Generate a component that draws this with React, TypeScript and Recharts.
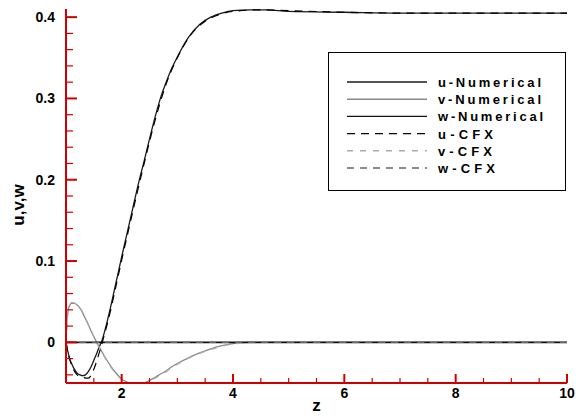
import { LineChart, Line, XAxis, YAxis } from "recharts";

const FONT = "'Liberation Sans', Arial, sans-serif";

// numerical solution
const zNum = [1, 1.02, 1.04, 1.07, 1.1, 1.15, 1.2, 1.25, 1.3, 1.35, 1.4, 1.45, 1.5, 1.55, 1.6, 1.65, 1.7, 1.8, 1.9, 2.0, 2.1, 2.2, 2.3, 2.4, 2.5, 2.6, 2.7, 2.8, 2.9, 3.0, 3.2, 3.4, 3.6, 3.8, 4.0, 4.3, 4.6, 5, 6, 7, 8, 9, 10];
const uNum = [0, -0.007, -0.013, -0.021, -0.026, -0.033, -0.038, -0.04, -0.041, -0.04, -0.036, -0.03, -0.022, -0.014, -0.005, 0.003, 0.015, 0.043, 0.074, 0.105, 0.135, 0.165, 0.195, 0.222, 0.25, 0.277, 0.301, 0.32, 0.337, 0.351, 0.375, 0.391, 0.4, 0.405, 0.408, 0.409, 0.409, 0.407, 0.406, 0.405, 0.405, 0.405, 0.405];
const vNum = [0, 0.03, 0.04, 0.046, 0.048, 0.048, 0.046, 0.042, 0.036, 0.029, 0.022, 0.014, 0.007, 0, -0.006, -0.012, -0.018, -0.029, -0.038, -0.045, -0.049, -0.051, -0.051, -0.05, -0.047, -0.043, -0.039, -0.035, -0.03, -0.026, -0.019, -0.013, -0.008, -0.004, -0.0015, 0, 0, 0, 0, 0, 0, 0, 0];
const wNum = [0, 0, 0, 0, 0, 0, 0, 0, 0, 0, 0, 0, 0, 0, 0, 0, 0, 0, 0, 0, 0, 0, 0, 0, 0, 0, 0, 0, 0, 0, 0, 0, 0, 0, 0, 0, 0, 0, 0, 0, 0, 0, 0];

// CFX solution
const zCfx = [1, 1.05, 1.1, 1.2, 1.3, 1.4, 1.5, 1.6, 1.7, 1.8, 1.9, 2.0, 2.2, 2.4, 2.6, 2.8, 3.0, 3.25, 3.5, 3.75, 4.0, 4.5, 5, 6, 7, 8, 9, 10];
const uCfx = [0, -0.017, -0.028, -0.04, -0.043, -0.044, -0.033, -0.012, 0.012, 0.039, 0.07, 0.101, 0.161, 0.219, 0.273, 0.318, 0.35, 0.379, 0.395, 0.403, 0.407, 0.409, 0.408, 0.406, 0.405, 0.405, 0.405, 0.405];
const vCfx = [0, 0.042, 0.049, 0.047, 0.037, 0.022, 0.007, -0.007, -0.019, -0.03, -0.039, -0.046, -0.052, -0.051, -0.044, -0.036, -0.027, -0.018, -0.011, -0.006, -0.002, 0, 0, 0, 0, 0, 0, 0];
const wCfx = [0, 0, 0, 0, 0, 0, 0, 0, 0, 0, 0, 0, 0, 0, 0, 0, 0, 0, 0, 0, 0, 0, 0, 0, 0, 0, 0, 0];

const xTicks = [1, 1.5, 2, 2.5, 3, 3.5, 4, 4.5, 5, 5.5, 6, 6.5, 7, 7.5, 8, 8.5, 9, 9.5, 10];
const xMajor = [2, 4, 6, 8, 10];
const yTicks = [-0.04, -0.02, 0, 0.02, 0.04, 0.06, 0.08, 0.1, 0.12, 0.14, 0.16, 0.18, 0.2, 0.22, 0.24, 0.26, 0.28, 0.3, 0.32, 0.34, 0.36, 0.38, 0.4];
const yMajor = [0, 0.1, 0.2, 0.3, 0.4];

const AXIS = "#d00000";

const pts = (zs: number[], vs: number[]) => zs.map((z, i) => ({ z, val: vs[i] }));

const series = [
  { name: "u-Numerical", data: pts(zNum, uNum), color: "#1a1a1a", dash: undefined, width: 1.3, textLen: 103 },
  { name: "v-Numerical", data: pts(zNum, vNum), color: "#8a8a8a", dash: undefined, width: 1.3, textLen: 103 },
  { name: "w-Numerical", data: pts(zNum, wNum), color: "#111", dash: undefined, width: 1.6, textLen: 105 },
  { name: "u-CFX", data: pts(zCfx, uCfx), color: "#000", dash: "8 6", width: 1.2, textLen: 55 },
  { name: "v-CFX", data: pts(zCfx, vCfx), color: "#aaa", dash: "6 7", width: 1.2, textLen: 54 },
  { name: "w-CFX", data: pts(zCfx, wCfx), color: "#666", dash: "7 6", width: 1.2, textLen: 57 },
];

function XTick(props: any) {
  const { x, y, payload } = props;
  const major = xMajor.includes(payload.value);
  const len = major ? 9 : 5;
  return (
    <g>
      <line x1={x} x2={x} y1={y} y2={y - len} stroke={AXIS} strokeWidth={major ? 2 : 1.2} />
      {major && (
        <text x={x} y={y + 15} textAnchor="middle" fontFamily={FONT} fontWeight="bold" fontSize={14} fill="#000">
          {payload.value}
        </text>
      )}
    </g>
  );
}

function YTick(props: any) {
  const { x, y, payload } = props;
  const major = yMajor.includes(payload.value);
  const len = major ? 11 : 7;
  return (
    <g>
      <line x1={x} x2={x + len} y1={y} y2={y} stroke={AXIS} strokeWidth={major ? 2 : 1.2} />
      {major && (
        <text x={x - 11} y={y + 5} textAnchor="end" fontFamily={FONT} fontWeight="bold" fontSize={14} fill="#000">
          {payload.value}
        </text>
      )}
    </g>
  );
}

function LegendBox() {
  return (
    <svg width={238} height={139} style={{ position: "absolute", left: 328, top: 52, display: "block" }}>
      <rect x={0.5} y={0.5} width={237} height={138} fill="#fff" stroke="#000" strokeWidth={1} />
      {series.map((s, i) => {
        const cy = 30 + i * 17.2;
        return (
          <g key={s.name}>
            <line x1={19} x2={99} y1={cy} y2={cy} stroke={s.color} strokeWidth={1.4} strokeDasharray={s.dash} />
            <text x={110} y={cy + 5} fontFamily={FONT} fontWeight="bold" fontSize={13} fill="#000" textLength={s.textLen} lengthAdjust="spacing">
              {s.name}
            </text>
          </g>
        );
      })}
    </svg>
  );
}

export default function App() {
  return (
    <div style={{ position: "absolute", left: 0, top: 0, width: 586, height: 417, background: "#fff" }}>
      <LineChart width={586} height={417} margin={{ top: 9, right: 19, left: 0, bottom: 0 }}>
        <XAxis
          dataKey="z"
          type="number"
          domain={[1, 10]}
          ticks={xTicks}
          interval={0}
          tickSize={0}
          tickMargin={0}
          height={34}
          allowDataOverflow
          axisLine={{ stroke: AXIS, strokeWidth: 2 }}
          tickLine={false}
          tick={(p: any) => <XTick {...p} />}
          label={{ value: "z", position: "insideBottom", offset: 6, fontFamily: FONT, fontWeight: "bold", fontSize: 17, fill: "#000" }}
        />
        <YAxis
          type="number"
          domain={[-0.05, 0.41]}
          ticks={yTicks}
          interval={0}
          tickSize={0}
          tickMargin={0}
          width={66}
          allowDataOverflow
          axisLine={{ stroke: AXIS, strokeWidth: 2 }}
          tickLine={false}
          tick={(p: any) => <YTick {...p} />}
          label={() => (
            <text x={24} y={205} transform="rotate(-90 24 205)" textAnchor="middle" fontFamily={FONT} fontWeight="bold" fontSize={17} fill="#000">
              u,v,w
            </text>
          )}
        />
        {series.map((s) => (
          <Line
            key={s.name}
            name={s.name}
            data={s.data}
            dataKey="val"
            type="monotone"
            stroke={s.color}
            strokeWidth={s.width}
            strokeDasharray={s.dash}
            dot={false}
            activeDot={false}
            isAnimationActive={false}
          />
        ))}
      </LineChart>
      <LegendBox />
    </div>
  );
}
